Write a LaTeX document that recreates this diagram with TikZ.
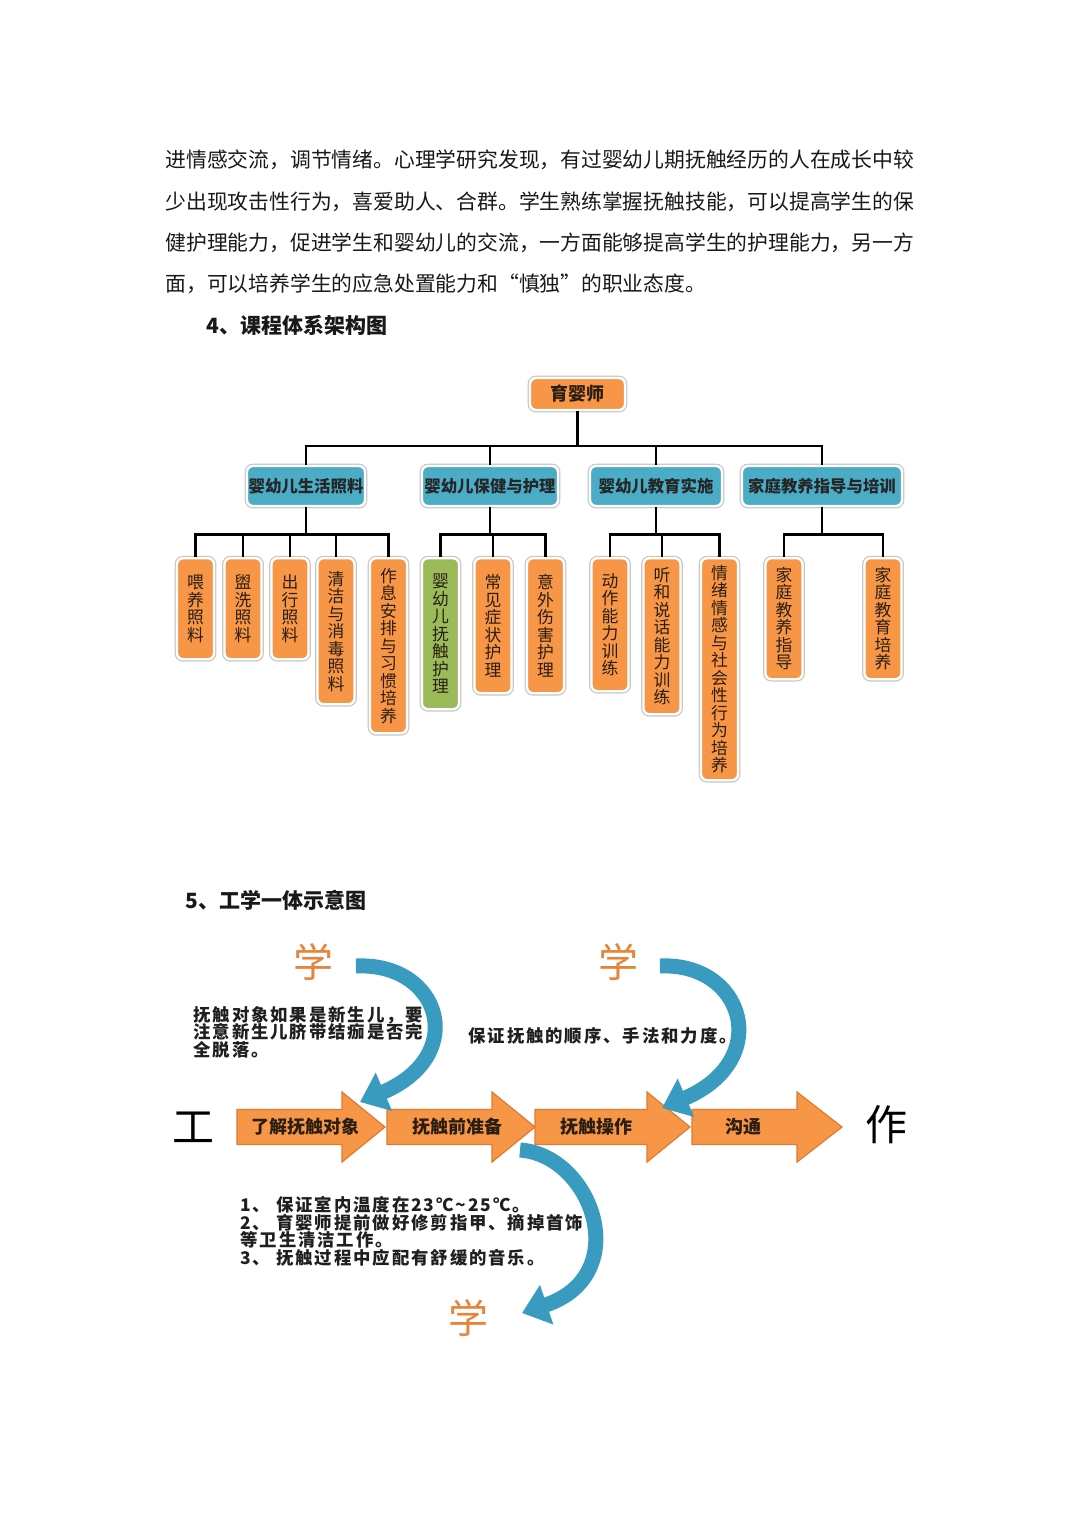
\documentclass[tikz,border=0pt]{standalone}
\usepackage{fontspec}
\setmainfont{Noto Sans CJK SC}
\newfontfamily\notefont[LetterSpace=11]{Noto Sans CJK SC}
\usetikzlibrary{arrows.meta}
\definecolor{orf}{HTML}{F79646}
\definecolor{orline}{HTML}{E07A30}
\definecolor{blf}{HTML}{4BACC6}
\definecolor{grf}{HTML}{9BBB59}
\definecolor{arb}{HTML}{3A9BC0}
\definecolor{xueor}{HTML}{E8843A}
\definecolor{boxtxt}{HTML}{2A1E14}
\newcommand{\procshape}[3]{\draw[procarrow] (#1,1109.5) -- (#2,1109.5) -- (#2,1092) -- (#3,1127) -- (#2,1162) -- (#2,1144.5) -- (#1,1144.5) -- cycle;}
\newcommand{\tightlines}{\lineskiplimit=-20pt\relax}
\begin{document}
\begin{tikzpicture}[x=0.5pt,y=-0.5pt,
 halo/.style={preaction={draw=black!22,line width=2.4pt}, draw=white, line width=1.2pt},
 rootbox/.style={halo, fill=orf, rounded corners=3pt, minimum width=47.5pt, minimum height=16pt, inner sep=0pt, font=\fontsize{9}{10}\selectfont\bfseries, text=boxtxt},
 midbox/.style={halo, fill=blf, rounded corners=3pt, minimum height=20pt, inner sep=0pt, font=\fontsize{8.2}{9}\selectfont\bfseries, text=black!85},
 leaf/.style={halo, fill=orf, rounded corners=3pt, anchor=north, minimum width=18.5pt, inner sep=0pt, align=center, font=\fontsize{8.4}{8.75}\selectfont, text=boxtxt},
 tline/.style={draw=black, line width=1.4pt},
 para/.style={anchor=west, inner sep=0pt, font=\fontsize{10.4}{12}\selectfont, text=black!90},
 heading/.style={anchor=west, inner sep=0pt, font=\fontsize{10.5}{12}\selectfont\bfseries, text=black!90},
 procarrow/.style={fill=orf, draw=orline, line width=0.6pt},
 proctext/.style={inner sep=0pt, font=\fontsize{9}{10}\selectfont\bfseries, text=boxtxt},
 bigchar/.style={inner sep=0pt, font=\fontsize{21}{22}\selectfont, text=black},
 xue/.style={inner sep=0pt, font=\fontsize{20}{22}\selectfont, text=xueor},
 note/.style={inner sep=0pt, align=left, font={\notefont\fontsize{8.7}{8.75}\selectfont\tightlines\bfseries}, text=black!88},
 curvarrow/.style={draw=arb, line width=7.5pt, -{Triangle[width=20pt,length=13pt]}}
]
\fill[white] (0,0) rectangle (1080,1515);
\useasboundingbox (0,0) rectangle (1080,1515);

% paragraph
\node[para] (p1) at (165,160) {进情感交流，调节情绪。心理学研究发现，有过婴幼儿期抚触经历的人在成长中较};
\node[para] (p2) at (165,202) {少出现攻击性行为，喜爱助人、合群。学生熟练掌握抚触技能，可以提高学生的保};
\node[para] (p3) at (165,243) {健护理能力，促进学生和婴幼儿的交流，一方面能够提高学生的护理能力，另一方};
\node[para] (p4) at (165,284) {面，可以培养学生的应急处置能力和“慎独”的职业态度。};
\node[heading] (h4) at (206,325) {4、课程体系架构图};

% tree
\node[rootbox] (root) at (577.5,394) {育婴师};
\node[midbox, minimum width=59pt] (l2a) at (306,486) {婴幼儿生活照料};
\node[midbox, minimum width=68pt] (l2b) at (490,486) {婴幼儿保健与护理};
\node[midbox, minimum width=66pt] (l2c) at (656,486) {婴幼儿教育实施};
\node[midbox, minimum width=80pt] (l2d) at (822,486) {家庭教养指导与培训};

\node[leaf, minimum height=50.5pt] (a1) at (195.5,557) {喂\\养\\照\\料};
\node[leaf, minimum height=50.5pt] (a2) at (243,557) {盥\\洗\\照\\料};
\node[leaf, minimum height=50.5pt] (a3) at (290,557) {出\\行\\照\\料};
\node[leaf, minimum height=73pt] (a4) at (336,557) {清\\洁\\与\\消\\毒\\照\\料};
\node[leaf, minimum height=87.5pt] (a5) at (388.5,557) {作\\息\\安\\排\\与\\习\\惯\\培\\养};
\node[leaf, fill=grf, minimum height=75.5pt] (b1) at (440.5,557) {婴\\幼\\儿\\抚\\触\\护\\理};
\node[leaf, minimum height=67.5pt] (b2) at (493,557) {常\\见\\症\\状\\护\\理};
\node[leaf, minimum height=67.5pt] (b3) at (545.5,557) {意\\外\\伤\\害\\护\\理};
\node[leaf, minimum height=66.5pt] (c1) at (610,557) {动\\作\\能\\力\\训\\练};
\node[leaf, minimum height=78pt] (c2) at (662,557) {听\\和\\说\\话\\能\\力\\训\\练};
\node[leaf, minimum height=111pt] (c3) at (719.5,557) {情\\绪\\情\\感\\与\\社\\会\\性\\行\\为\\培\\养};
\node[leaf, minimum height=60.5pt] (d1) at (784,557) {家\\庭\\教\\养\\指\\导};
\node[leaf, minimum height=60.5pt] (d2) at (883,557) {家\\庭\\教\\育\\培\\养};

\coordinate (rb) at (577.5,446);
\draw[tline] (root.south) -- (rb);
\foreach \n in {l2a,l2b,l2c,l2d} \draw[tline] (rb) -| (\n.north);
\draw[tline] (l2a.south) -- ++(0,27) coordinate (ga);
\foreach \n in {a1,a2,a3,a4,a5} \draw[tline] (ga) -| (\n.north);
\draw[tline] (l2b.south) -- ++(0,27) coordinate (gb);
\foreach \n in {b1,b2,b3} \draw[tline] (gb) -| (\n.north);
\draw[tline] (l2c.south) -- ++(0,27) coordinate (gc);
\foreach \n in {c1,c2,c3} \draw[tline] (gc) -| (\n.north);
\draw[tline] (l2d.south) -- ++(0,27) coordinate (gd);
\foreach \n in {d1,d2} \draw[tline] (gd) -| (\n.north);

% section 5
\node[heading] (h5) at (185,900) {5、工学一体示意图};

\node[xue] (x1) at (313,962) {学};
\node[xue] (x2) at (618,962) {学};
\node[xue] (x3) at (468,1318) {学};

\coordinate (c3s) at (520,1150);
\coordinate (c3a) at (592,1155);
\coordinate (c3b) at (635,1275);
\coordinate (c3e) at (522,1313);
\draw[curvarrow] (c3s) .. controls (c3a) and (c3b) .. (c3e);

\procshape{237}{342}{385}
\procshape{387}{492}{535}
\procshape{535}{647}{690}
\procshape{692}{797}{842}
\node[proctext] (t1) at (305,1127) {了解抚触对象};
\node[proctext] (t2) at (457,1127) {抚触前准备};
\node[proctext] (t3) at (596,1127) {抚触操作};
\node[proctext] (t4) at (743,1127) {沟通};

\node[bigchar] (gong) at (193,1127) {工};
\node[bigchar] (zuo) at (886,1125) {作};

\coordinate (c1s) at (356,966);
\coordinate (c1a) at (440,962);
\coordinate (c1b) at (470,1055);
\coordinate (c1e) at (360,1102);
\draw[curvarrow] (c1s) .. controls (c1a) and (c1b) .. (c1e);
\coordinate (c2s) at (660,966);
\coordinate (c2a) at (744,962);
\coordinate (c2b) at (774,1060);
\coordinate (c2e) at (662,1108);
\draw[curvarrow] (c2s) .. controls (c2a) and (c2b) .. (c2e);

\node[note, anchor=north west] (nA) at (193,1006) {抚触对象如果是新生儿，要\\注意新生儿脐带结痂是否完\\全脱落。};
\node[note, anchor=west] (nB) at (468,1036) {保证抚触的顺序、手法和力度。};
\node[note, anchor=north west] (nC) at (240,1196) {1、 保证室内温度在23℃\textasciitilde25℃。\\2、 育婴师提前做好修剪指甲、摘掉首饰\\等卫生清洁工作。\\3、 抚触过程中应配有舒缓的音乐。};
\end{tikzpicture}
\end{document}
